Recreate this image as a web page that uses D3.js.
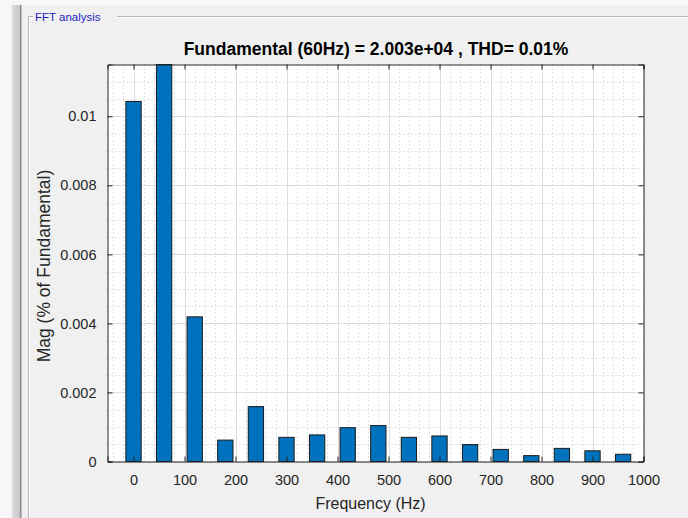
<!DOCTYPE html>
<html><head><meta charset="utf-8">
<script src="https://d3js.org/d3.v7.min.js"></script>
<style>
html,body{margin:0;padding:0;background:#f0f0f0;}
svg{display:block;font-family:"Liberation Sans",Arial,Helvetica,sans-serif;}
</style></head>
<body><svg id="c" width="688" height="518"></svg>
<script>
// Data (Hz, % of fundamental); 60 Hz is the fundamental (100%), clipped by the axis
const frequencies = [0, 60, 120, 180, 240, 300, 360, 420, 480, 540, 600, 660, 720, 780, 840, 900, 960];
const magnitudes  = [0.01043, 100, 0.00419, 0.00062, 0.00159, 0.00070, 0.00077, 0.00098, 0.00104, 0.00070, 0.00074, 0.00049, 0.00035, 0.00017, 0.00038, 0.00031, 0.00021];
const xTicks = [0, 100, 200, 300, 400, 500, 600, 700, 800, 900, 1000];
const yTicks = [0, 0.002, 0.004, 0.006, 0.008, 0.01];
const titleText = "Fundamental (60Hz) = 2.003e+04 , THD= 0.01%";
const xLabel = "Frequency (Hz)";
const yLabel = "Mag (% of Fundamental)";
const panelTitle = "FFT analysis";
const barWidthHz = 30;

const svg = d3.select("#c");
const W = 688, H = 518;
const M = {left: 107.5, top: 64.5, right: 643.5, bottom: 461.5};

// window chrome
svg.append("rect").attr("x",0).attr("y",0).attr("width",W).attr("height",H).attr("fill","#f0f0f0");
svg.append("rect").attr("x",0).attr("y",0).attr("width",W).attr("height",5).attr("fill","#f7f7f7");
svg.append("rect").attr("x",0).attr("y",0).attr("width",12).attr("height",H).attr("fill","#f7f7f7");
const grad = svg.append("defs").append("linearGradient").attr("id","lg");
grad.append("stop").attr("offset","0").attr("stop-color","#dedede");
grad.append("stop").attr("offset","1").attr("stop-color","#c4c4c4");
svg.append("rect").attr("x",12).attr("y",5).attr("width",8).attr("height",H).attr("fill","url(#lg)");
svg.append("rect").attr("x",20).attr("y",5).attr("width",1.5).attr("height",H).attr("fill","#8a8a8a");
// group box
svg.append("path").attr("d",`M117,16.5H${W}M28.5,${H}V16.5H33`).attr("fill","none").attr("stroke","#b4b4b4").attr("stroke-width",1);
svg.append("path").attr("d",`M117,17.5H${W}M29.5,${H}V17.5H33`).attr("fill","none").attr("stroke","#ffffff").attr("stroke-width",1);
svg.append("text").attr("x",35).attr("y",21).attr("font-size",11.5).attr("fill","#1d1dbd").text(panelTitle);

const x = d3.scaleLinear().domain([-51, 1000]).range([M.left, M.right]);
const y = d3.scaleLinear().domain([0, 0.0115]).range([M.bottom, M.top]).clamp(true);

// plot background
svg.append("rect").attr("x",M.left).attr("y",M.top).attr("width",M.right-M.left).attr("height",M.bottom-M.top).attr("fill","#ffffff");

const g = svg.append("g");
// minor grid
const xMinor = d3.range(-40, 1001, 20).filter(v => v % 100 !== 0);
const yMinor = d3.range(0.0005, 0.0115, 0.0005).filter(v => Math.abs(v/0.002 - Math.round(v/0.002)) > 1e-6);
g.selectAll(".xm").data(xMinor).join("line")
  .attr("x1",d=>Math.round(x(d))+0.5).attr("x2",d=>Math.round(x(d))+0.5).attr("y1",M.top).attr("y2",M.bottom)
  .attr("stroke","#c4c4c4").attr("stroke-width",1).attr("stroke-dasharray","1,3");
g.selectAll(".ym").data(yMinor).join("line")
  .attr("y1",d=>Math.round(y(d))+0.5).attr("y2",d=>Math.round(y(d))+0.5).attr("x1",M.left).attr("x2",M.right)
  .attr("stroke","#c4c4c4").attr("stroke-width",1).attr("stroke-dasharray","1,3");
// major grid
g.selectAll(".xg").data(xTicks).join("line")
  .attr("x1",d=>Math.round(x(d))+0.5).attr("x2",d=>Math.round(x(d))+0.5).attr("y1",M.top).attr("y2",M.bottom)
  .attr("stroke","#dcdcdc").attr("stroke-width",1);
g.selectAll(".yg").data(yTicks).join("line")
  .attr("y1",d=>Math.round(y(d))+0.5).attr("y2",d=>Math.round(y(d))+0.5).attr("x1",M.left).attr("x2",M.right)
  .attr("stroke","#dcdcdc").attr("stroke-width",1);

// bars
const data = frequencies.map((f,i)=>({f, v: magnitudes[i]}));
g.selectAll(".bar").data(data).join("rect")
  .attr("x", d => x(d.f - barWidthHz/2))
  .attr("width", d => x(d.f + barWidthHz/2) - x(d.f - barWidthHz/2))
  .attr("y", d => y(d.v))
  .attr("height", d => y(0) - y(d.v))
  .attr("fill","#0072bd").attr("stroke","#1a1a1a").attr("stroke-width",1);

// axes
const axisColor = "#262626";
const xAxisB = d3.axisBottom(x).tickValues(xTicks).tickSize(-5).tickPadding(13).tickFormat(d3.format("d"));
const xAxisT = d3.axisTop(x).tickValues(xTicks).tickSize(-5).tickFormat("");
const yAxisL = d3.axisLeft(y).tickValues(yTicks).tickSize(-5).tickPadding(11).tickFormat(d => d===0 ? "0" : d3.format("")(+d.toFixed(3)));
const yAxisR = d3.axisRight(y).tickValues(yTicks).tickSize(-5).tickFormat("");

function style(sel){
  sel.selectAll("path").attr("stroke",axisColor).attr("stroke-width",1);
  sel.selectAll("line").attr("stroke",axisColor).attr("stroke-width",1);
  sel.selectAll("text").attr("fill","#262626").attr("font-size",14.5).attr("font-family","'Liberation Sans',Arial,sans-serif");
}
svg.append("g").attr("transform",`translate(0,${M.bottom})`).call(xAxisB).call(style);
svg.append("g").attr("transform",`translate(0,${M.top})`).call(xAxisT).call(style);
svg.append("g").attr("transform",`translate(${M.left},0)`).call(yAxisL).call(style);
svg.append("g").attr("transform",`translate(${M.right},0)`).call(yAxisR).call(style);

// labels
svg.append("text").attr("x",376).attr("y",55).attr("text-anchor","middle")
  .attr("font-size",17.5).attr("font-weight","bold").attr("fill","#000").text(titleText);
svg.append("text").attr("x",(M.left+M.right)/2-5).attr("y",509).attr("text-anchor","middle")
  .attr("font-size",16).attr("fill","#262626").text(xLabel);
svg.append("text").attr("transform",`translate(50,266) rotate(-90)`).attr("text-anchor","middle")
  .attr("font-size",17.5).attr("fill","#262626").text(yLabel);
</script></body></html>
